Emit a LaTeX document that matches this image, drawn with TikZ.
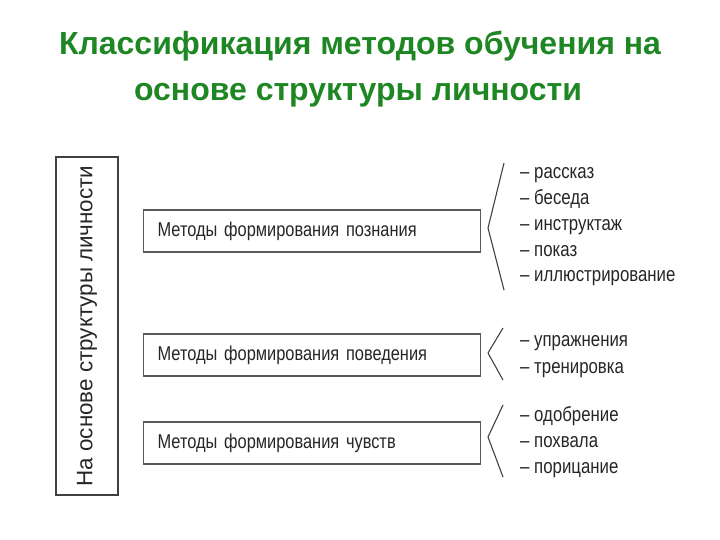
\documentclass[tikz,border=0pt]{standalone}
\usepackage{fontspec}
\setmainfont{Liberation Sans}
\newfontfamily\narrowsans[FakeStretch=0.82]{Liberation Sans}
\usetikzlibrary{positioning}
\definecolor{titlegreen}{RGB}{30,135,35}

\begin{document}
\begin{tikzpicture}[
    x=1pt, y=-1pt,
    title/.style={
        font=\bfseries\fontsize{32}{32}\selectfont,
        text=titlegreen,
        anchor=base,
        inner sep=0pt
    },
    basebox/.style={
        draw=black!75,
        line width=2.2pt,
        minimum width=338pt,
        minimum height=62pt,
        font=\fontsize{22.4}{22.4}\selectfont,
        text=black!85,
        rotate=90
    },
    group/.style={
        draw=black!65,
        line width=1.3pt,
        anchor=west,
        align=left,
        text width=309pt,
        inner xsep=14pt,
        minimum height=42pt,
        font=\narrowsans\fontsize{20}{20}\selectfont,
        text=black!85
    },
    item/.style={
        anchor=base west,
        inner sep=0pt,
        font=\narrowsans\fontsize{20.5}{20.5}\selectfont,
        text=black!85
    },
    brace/.style={draw=black!75, line width=1.1pt, line join=round}
]
    \useasboundingbox (0,0) rectangle (720,540);

    % title
    \node[title] (title1) at (360,55) {Классификация методов обучения на};
    \node[title] (title2) at (358,101) {основе структуры личности};

    % left box
    \node[basebox] (base) at (87,326) {На основе структуры личности};

    % groups
    \node[group] (know) at (143,231) {Методы формирования познания};
    \node[group] (behav) at (143,355) {Методы формирования поведения};
    \node[group] (feel) at (143,443) {Методы формирования чувств};

    % brackets
    \coordinate (k top) at (504,163);
    \coordinate (k tip) at (488,228);
    \coordinate (k bot) at (504,290);
    \coordinate (b top) at (503,328);
    \coordinate (b tip) at (488,353);
    \coordinate (b bot) at (503,380);
    \coordinate (f top) at (503,405);
    \coordinate (f tip) at (488,437);
    \coordinate (f bot) at (503,477);
    \draw[brace] (k top) -- (k tip) -- (k bot);
    \draw[brace] (b top) -- (b tip) -- (b bot);
    \draw[brace] (f top) -- (f tip) -- (f bot);

    % items
    \node[item] (k1) at (520,179) {– рассказ};
    \node[item] (k2) at (520,204.7) {– беседа};
    \node[item] (k3) at (520,230.4) {– инструктаж};
    \node[item] (k4) at (520,256) {– показ};
    \node[item] (k5) at (520,281.7) {– иллюстрирование};
    \node[item] (b1) at (520,346) {– упражнения};
    \node[item] (b2) at (520,373) {– тренировка};
    \node[item] (f1) at (520,421) {– одобрение};
    \node[item] (f2) at (520,447) {– похвала};
    \node[item] (f3) at (520,473) {– порицание};
\end{tikzpicture}
\end{document}
